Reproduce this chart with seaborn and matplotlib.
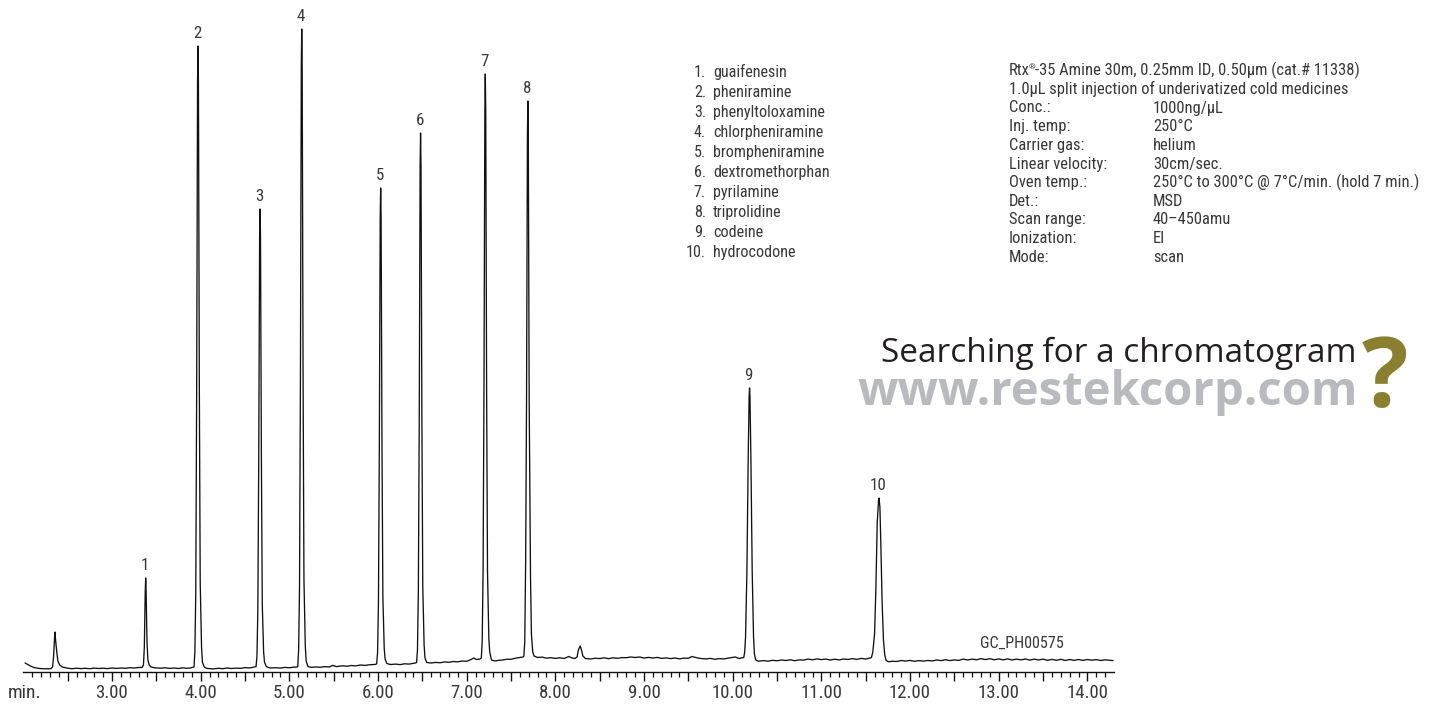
import numpy as np
import matplotlib
matplotlib.use("Agg")
import matplotlib.pyplot as plt
import seaborn as sns

W, H = 1434, 704
TEXT = "#383838"

trace_time = [
    2.02, 2.05, 2.08, 2.12, 2.18, 2.25, 2.31, 2.33, 2.34, 2.35, 2.357, 2.365, 2.38, 2.39, 2.41, 2.44, 2.50, 2.55, 2.60, 2.65,
    2.70, 2.75, 2.80, 2.85, 2.90, 2.95, 3.00, 3.05, 3.10, 3.15, 3.20, 3.25, 3.30,
    3.34, 3.355, 3.365, 3.375, 3.38, 3.385, 3.395, 3.405, 3.42, 3.44, 3.48,
    3.55, 3.60, 3.65, 3.70, 3.75, 3.80, 3.84, 3.88,
    3.925, 3.935, 3.945, 3.955, 3.965, 3.97, 3.975, 3.985, 3.995, 4.01, 4.02, 4.04, 4.07,
    4.14, 4.20, 4.25, 4.30, 4.35, 4.40, 4.45, 4.50, 4.55, 4.60,
    4.625, 4.635, 4.645, 4.655, 4.665, 4.67, 4.675, 4.685, 4.695, 4.71, 4.72, 4.74, 4.78,
    4.85, 4.90, 4.95, 5.00, 5.05, 5.09,
    5.095, 5.105, 5.115, 5.125, 5.135, 5.14, 5.145, 5.155, 5.165, 5.18, 5.19, 5.21, 5.25,
    5.30, 5.35, 5.40, 5.45, 5.49, 5.53, 5.60, 5.65, 5.70, 5.75, 5.80, 5.85, 5.90, 5.97,
    5.985, 5.995, 6.005, 6.015, 6.025, 6.03, 6.035, 6.045, 6.055, 6.07, 6.08, 6.10, 6.14,
    6.20, 6.25, 6.30, 6.35, 6.42,
    6.435, 6.445, 6.455, 6.465, 6.475, 6.48, 6.485, 6.495, 6.505, 6.52, 6.53, 6.55, 6.60,
    6.65, 6.70, 6.75, 6.80, 6.85, 6.90, 6.95, 7.00, 7.05, 7.08, 7.11, 7.15,
    7.165, 7.175, 7.185, 7.195, 7.205, 7.21, 7.215, 7.225, 7.235, 7.25, 7.26, 7.28, 7.32,
    7.36, 7.40, 7.45, 7.50, 7.55, 7.60, 7.635,
    7.645, 7.655, 7.665, 7.675, 7.685, 7.69, 7.695, 7.705, 7.72, 7.73, 7.745, 7.76, 7.80,
    7.85, 7.90, 7.95, 8.00, 8.05, 8.10, 8.15, 8.19, 8.22, 8.245, 8.26, 8.28, 8.295, 8.31, 8.34,
    8.40, 8.45, 8.50, 8.55, 8.60, 8.65, 8.70, 8.75, 8.80, 8.85, 8.90, 8.95, 9.00, 9.05, 9.10, 9.15, 9.20, 9.25, 9.30, 9.35, 9.40,
    9.45, 9.50, 9.54, 9.60, 9.65, 9.70, 9.75, 9.80, 9.85, 9.90, 9.95, 10.00, 10.03, 10.07, 10.10,
    10.125, 10.135, 10.145, 10.16, 10.175, 10.185, 10.19, 10.195, 10.205, 10.22, 10.235, 10.245, 10.26, 10.29,
    10.35, 10.40, 10.45, 10.50, 10.55, 10.60, 10.65, 10.70, 10.75, 10.80, 10.85, 10.90, 10.95, 11.00, 11.05, 11.10, 11.15, 11.20, 11.25, 11.30, 11.35, 11.40, 11.45, 11.50, 11.55,
    11.565, 11.58, 11.60, 11.615, 11.63, 11.645, 11.65, 11.66, 11.67, 11.685, 11.70, 11.715, 11.73, 11.76,
    11.80, 11.85, 11.90, 11.95, 12.00, 12.05, 12.10, 12.15, 12.20, 12.25, 12.30, 12.35, 12.40, 12.45, 12.50, 12.55, 12.60, 12.65, 12.70, 12.75, 12.80, 12.85, 12.90, 12.95, 13.00, 13.05, 13.10, 13.15, 13.20, 13.25,
    13.30, 13.35, 13.40, 13.45, 13.50, 13.55, 13.60, 13.65, 13.70, 13.75, 13.80, 13.85, 13.90, 13.95, 14.00, 14.05, 14.10, 14.15, 14.20, 14.29,
]
trace_signal = [
    9, 7.5, 6, 4.5, 3.5, 3.2, 3.3, 5, 14, 30, 40, 31, 18, 11, 7, 5, 3.8, 3.3, 3.8, 3.4,
    3.7, 3.3, 3.9, 3.5, 3.8, 3.4, 4.0, 3.6, 4.0, 3.7, 4.3, 4.0, 4.5,
    4.6, 7, 25, 80, 94, 80, 30, 12, 7, 5, 4.2,
    3.8, 4.2, 3.6, 4.0, 3.5, 4.2, 3.7, 4.0,
    5, 20, 80, 280, 590, 626, 590, 290, 90, 25, 10, 5, 3.6,
    3.1, 3.7, 3.3, 4.0, 3.5, 3.9, 3.6, 4.4, 4.0, 4.9,
    5.5, 16, 62, 210, 435, 463, 435, 215, 68, 20, 10, 5.5, 4,
    4.3, 3.9, 4.6, 4.2, 4.9, 5,
    5.5, 22, 85, 290, 605, 643, 605, 295, 92, 26, 11, 5.5, 4.6,
    5.1, 4.7, 5.4, 5.0, 6.6, 5.4, 6.2, 5.7, 6.5, 6.1, 7.0, 6.6, 7.2, 7.6,
    8.2, 19, 68, 225, 455, 484, 455, 225, 75, 24, 13, 8.5, 7.5,
    7.9, 7.4, 8.2, 7.9, 9,
    9.5, 22, 80, 250, 505, 539, 505, 250, 85, 27, 14, 9.5, 9,
    9.6, 9.2, 10.1, 9.7, 10.5, 10.2, 11, 10.7, 12.5, 14, 12.5, 13,
    14, 30, 100, 280, 560, 598, 560, 280, 100, 33, 20, 12, 11,
    11.7, 11.9, 12.8, 12.7, 13.8, 14.5, 15,
    16, 30, 110, 270, 535, 571, 535, 270, 95, 38, 20, 16, 14.5,
    14.9, 13.9, 14.3, 13.6, 14.2, 13.5, 15.5, 14, 13.5, 15, 22, 26, 22, 16, 13.5,
    13.0, 13.8, 13.4, 14.2, 13.3, 14.2, 13.7, 14.4, 14.3, 15.0, 14.5, 15.0, 14.0, 14.6, 14.0, 14.6, 13.6, 14.1, 13.4, 14.0, 13.1,
    13.9, 13.7, 15.5, 14.1, 13.4, 13.1, 13.6, 12.7, 13.4, 13.0, 13.9, 14.6, 15, 13.5, 14,
    14.5, 20, 35, 100, 215, 275, 284, 275, 215, 100, 35, 18, 12, 10.8,
    11.4, 10.8, 11.7, 11.2, 12.0, 11.5, 12.2, 11.3, 12.1, 11.9, 12.9, 12.2, 13.1, 12.4, 12.9, 12.0, 12.8, 12.1, 13.0, 12.5, 13.4, 12.6, 13.6, 13.0, 14,
    14.5, 20, 38, 85, 150, 172, 174, 165, 130, 70, 32, 17, 11.5, 10.2,
    10.8, 10.5, 11.5, 10.9, 11.6, 10.7, 11.4, 10.9, 11.5, 11.0, 12.0, 11.4, 12.3, 11.4, 12.1, 11.6, 12.9, 12.0, 12.9, 12.2, 13.4, 12.4, 13.3, 12.2, 13.1, 12.1, 13.1, 12.0, 12.9, 12.1,
    13.0, 11.9, 12.9, 12.0, 12.9, 11.7, 12.6, 11.7, 12.7, 11.5, 12.5, 11.6, 12.5, 11.6, 12.5, 11.8, 12.4, 11.5, 12.2, 11.4,
]

peak_numbers = ["1", "2", "3", "4", "5", "6", "7", "8", "9", "10"]
peak_times = [3.38, 3.97, 4.67, 5.14, 6.03, 6.48, 7.21, 7.69, 10.19, 11.65]
peak_heights = [94, 626, 463, 643, 484, 539, 598, 571, 284, 174]

compounds = ["guaifenesin", "pheniramine", "phenyltoloxamine", "chlorpheniramine", "brompheniramine",
             "dextromethorphan", "pyrilamine", "triprolidine", "codeine", "hydrocodone"]

cond_keys = ["Conc.:", "Inj. temp:", "Carrier gas:", "Linear velocity:", "Oven temp.:", "Det.:",
             "Scan range:", "Ionization:", "Mode:"]
cond_vals = ["1000ng/µL", "250°C", "helium", "30cm/sec.", "250°C to 300°C @ 7°C/min. (hold 7 min.)",
             "MSD", "40–450amu", "EI", "scan"]

major_ticks = [2.5, 3, 3.5, 4, 4.5, 5, 5.5, 6, 6.5, 7, 7.5, 8, 8.5, 9, 9.5, 10, 10.5, 11, 11.5, 12, 12.5, 13, 13.5, 14]
major_labels = ["", "3.00", "", "4.00", "", "5.00", "", "6.00", "", "7.00", "", "8.00", "", "9.00", "", "10.00",
                "", "11.00", "", "12.00", "", "13.00", "", "14.00"]

sns.set_theme(style="white")
FONT = ["Roboto Condensed", "Archivo Narrow", "Liberation Sans", "DejaVu Sans"]
LOGO = ["Open Sans", "DejaVu Sans"]
plt.rcParams["font.family"] = FONT

fig = plt.figure(figsize=(W / 100, H / 100), dpi=100, facecolor="white")
ax = fig.add_axes([23.3 / W, (H - 672) / H, (1114 - 23.3) / W, 672 / H])
sns.lineplot(x=trace_time, y=trace_signal, estimator=None, sort=False, color="#111111", linewidth=0.95, ax=ax)

ax.set_xlim(2.0, 14.3)
ax.set_ylim(0, 672)
ax.set_facecolor("none")
sns.despine(ax=ax, left=True, top=True, right=True)
ax.spines["bottom"].set_color("#111111")
ax.spines["bottom"].set_linewidth(1.0)
ax.set_yticks([])
ax.set_xticks(major_ticks, major_labels)
ax.set_xticks(np.arange(2.1, 14.25, 0.1), minor=True)
ax.tick_params(axis="x", which="major", bottom=True, length=6.5, width=1.0, color="#111111",
               labelsize=13.5, labelcolor=TEXT, pad=2.5)
ax.tick_params(axis="x", which="minor", bottom=True, length=3.4, width=0.9, color="#111111")


def t(x, y, s, **kw):
    kw.setdefault("color", TEXT)
    kw.setdefault("fontsize", 11.9)
    kw.setdefault("va", "baseline")
    return fig.text(x / W, 1 - y / H, s, **kw)


t(8, 698, "min.", fontsize=14)

for n, pt, ph in zip(peak_numbers, peak_times, peak_heights):
    ax.annotate(n, (pt, ph), xytext=(-0.7, 6), textcoords="offset points", ha="center", va="baseline",
                fontsize=12.2, color=TEXT)

list_y = [77, 97, 117, 137, 157, 177, 197, 217, 237, 257]
for i, (c, y) in enumerate(zip(compounds, list_y)):
    t(706, y, f"{i + 1}.", ha="right", fontsize=11.6)
    t(713, y, c, fontsize=11.6)

t(1009, 75, "Rtx")
t(1029, 69, "®", fontsize=6)
t(1035, 75, "-35 Amine 30m, 0.25mm ID, 0.50µm (cat.# 11338)")
t(1009, 94, "1.0µL split injection of underivatized cold medicines")
cond_y = [112.5, 131, 150, 168.5, 187, 205.5, 224, 243, 261.5]
for k, v, y in zip(cond_keys, cond_vals, cond_y):
    t(1009, y, k)
    t(1153, y, v)

t(980, 648, "GC_PH00575", fontsize=11.6)

t(881, 362, "Searching for a chromatogram", family=LOGO, fontsize=24, color="#231f20")
t(857, 405, "www.restekcorp.com", family=LOGO, fontweight="bold", fontsize=34, color="#b9babd")
t(1362, 407, "?", family=LOGO, fontweight="bold", fontsize=70, color="#8a7f2f")

fig.savefig("out.png", dpi=100, facecolor="white")
